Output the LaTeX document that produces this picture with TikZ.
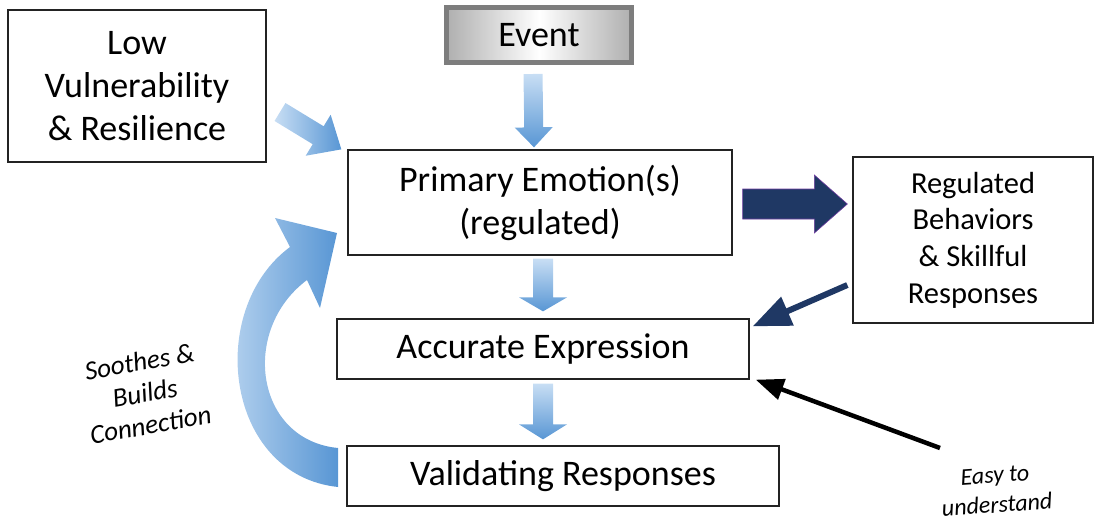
\documentclass[tikz,border=0pt]{standalone}
\usepackage{fontspec}
\setmainfont{Carlito}
\usetikzlibrary{arrows.meta,calc}

\definecolor{lightblue}{RGB}{200,222,244}
\definecolor{midblue}{RGB}{88,150,212}
\definecolor{navy}{RGB}{31,56,100}
\definecolor{navyedge}{RGB}{110,60,160}
\definecolor{boxline}{RGB}{35,35,35}
\definecolor{eventline}{RGB}{125,125,125}
\definecolor{eventgray}{RGB}{175,175,175}

% Block arrow from tail #1 to tip #2: shaft half width #3, head half width #4,
% head length #5 (all in pt), fill style #6
\newcommand\blockarrow[6]{%
  \path[#6] let \p1=(#1), \p2=(#2),
      \n1={atan2(\y2-\y1,\x2-\x1)},
      \n2={veclen(\x2-\x1,\y2-\y1)-#5}
    in ($(\p1)+(\n1+90:#3pt)$)
    -- ($(\p1)+(\n1:\n2*1pt)+(\n1+90:#3pt)$)
    -- ($(\p1)+(\n1:\n2*1pt)+(\n1+90:#4pt)$)
    -- (\p2)
    -- ($(\p1)+(\n1:\n2*1pt)+(\n1-90:#4pt)$)
    -- ($(\p1)+(\n1:\n2*1pt)+(\n1-90:#3pt)$)
    -- ($(\p1)+(\n1-90:#3pt)$) -- cycle;}

\tikzset{
  box/.style={draw=boxline, line width=1.3pt, inner sep=0pt, align=center, fill=white},
  big/.style={font=\fontsize{36}{43}\selectfont},
  mid/.style={font=\fontsize{30.5}{36.7}\selectfont},
  note/.style={align=center, font=\itshape\fontsize{27}{32}\selectfont},
  vgrad/.style={top color=lightblue, bottom color=midblue},
  hgrad/.style={left color=lightblue, right color=midblue},
  navyblock/.style={fill=navy, draw=navyedge, line width=0.6pt},
}

\begin{document}
\begin{tikzpicture}[x=1pt,y=-1pt]
\useasboundingbox (0,0) rectangle (1094,516);

% boxes
\node[box,big,minimum width=258pt,minimum height=152pt] (lv) at (137,86)
  {Low\\Vulnerability\\\& Resilience};
\node[box,big,draw=eventline,line width=5pt,
      left color=eventgray,right color=eventgray,middle color=white,
      minimum width=185pt,minimum height=55pt,text depth=0pt] (ev) at (539,35) {Event};
\node[box,big,minimum width=384pt,minimum height=105pt] (pe) at (540,202.5)
  {Primary Emotion(s)\\(regulated)};
\node[box,mid,minimum width=240pt,minimum height=166pt] (rb) at (973,240)
  {Regulated\\Behaviors\\\& Skillful\\Responses};
\node[box,big,minimum width=412pt,minimum height=60pt] (ac) at (543,349)
  {Accurate Expression};
\node[box,big,minimum width=432pt,minimum height=60pt] (va) at (563,476)
  {Validating Responses};

% gradient block arrows
\blockarrow{[xshift=-6pt,yshift=-9pt]ev.south}{[xshift=-6pt,yshift=2pt]pe.north}{9.5}{19}{20}{vgrad}
\blockarrow{[xshift=3pt,yshift=-3pt]pe.south}{[yshift=7pt]ac.north}{10}{24}{14}{vgrad}
\blockarrow{[yshift=-4pt]ac.south}{[xshift=-20pt,yshift=6pt]va.north}{10}{24}{15}{vgrad}
\coordinate (lvout) at (280,112);
\blockarrow{lvout}{[xshift=-6pt]pe.north west}{10.5}{24}{27}{hgrad}

% emotion to behaviours
\blockarrow{[xshift=10pt,yshift=-1.5pt]pe.east}{[xshift=-5pt,yshift=36pt]rb.west}{15}{29}{33}{navyblock}

% curved return arrow from validation back to the emotion
\path[hgrad] (338,487) .. controls (225,475) and (205,310) .. (290,247)
  -- (275,218) -- (337,233) -- (320,308) -- (307,280)
  .. controls (240,330) and (255,440) .. (338,448) -- cycle;

% line arrows
\draw[navy,line width=6pt,-{Triangle[length=38pt,width=30pt]}]
  ([xshift=-5pt,yshift=-45pt]rb.west) -- ([xshift=3pt,yshift=-8pt]ac.north east);
\coordinate (easytail) at (940,448);
\draw[black,line width=4.5pt,-{Triangle[length=28pt,width=21pt]}]
  (easytail) -- ([xshift=6pt]ac.south east);

% annotations
\node[note,rotate=10] (soothe) at (145,393) {Soothes \&\\Builds\\Connection};
\node[align=center,rotate=4,font=\itshape\fontsize{24}{30}\selectfont] (easy) at (996,490)
  {Easy to\\understand};
\end{tikzpicture}
\end{document}
